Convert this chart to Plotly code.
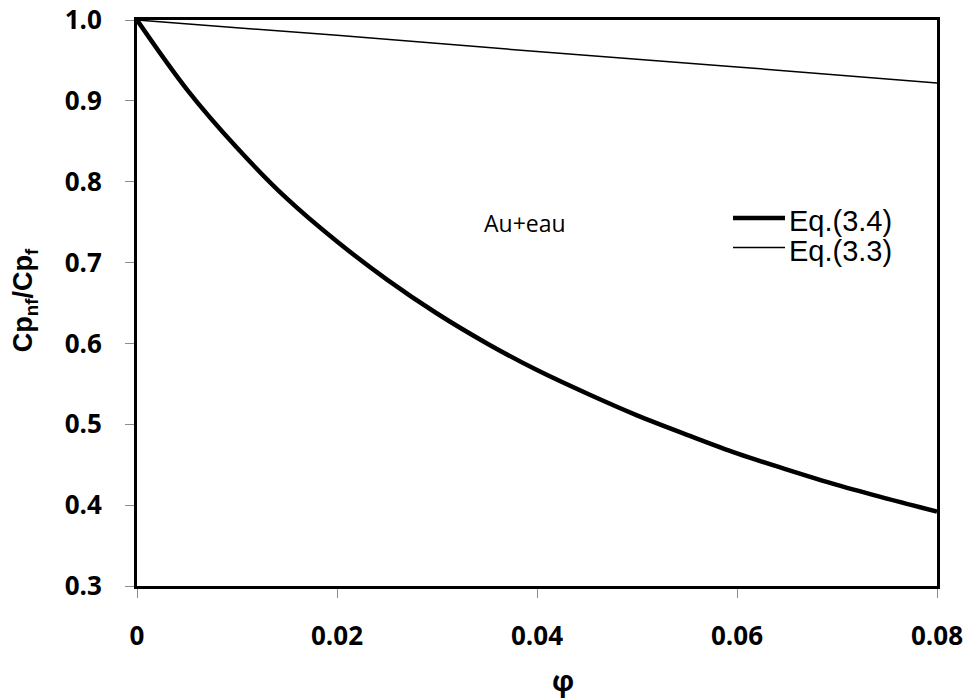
import plotly.graph_objects as go

# Volume fraction of Au nanoparticles in water
phi = [0.0, 0.005, 0.01, 0.015, 0.02, 0.025, 0.03, 0.035, 0.04,
       0.045, 0.05, 0.055, 0.06, 0.065, 0.07, 0.075, 0.08]
# Cp_nf / Cp_f, Eq.(3.4)
cp_eq34 = [1.0, 0.914, 0.842, 0.779, 0.726, 0.679, 0.637, 0.600, 0.567,
           0.538, 0.511, 0.487, 0.464, 0.444, 0.425, 0.408, 0.392]
# Cp_nf / Cp_f, Eq.(3.3)
phi_lin = [0.0, 0.02, 0.04, 0.06, 0.08]
cp_eq33 = [1.0, 0.981, 0.961, 0.942, 0.922]

x_ticks = [0, 0.02, 0.04, 0.06, 0.08]
x_tick_text = ["0", "0.02", "0.04", "0.06", "0.08"]
y_ticks = [0.3, 0.4, 0.5, 0.6, 0.7, 0.8, 0.9, 1.0]
y_tick_text = ["0.3", "0.4", "0.5", "0.6", "0.7", "0.8", "0.9", "1.0"]

series_names = ["Eq.(3.4)", "Eq.(3.3)"]
series_widths = [4.5, 1.5]

tick_font = dict(family="Open Sans", size=26, color="black", weight="bold")

fig = go.Figure()
fig.add_trace(go.Scatter(x=phi, y=cp_eq34, mode="lines", name=series_names[0],
                         line=dict(color="black", width=series_widths[0],
                                   shape="spline")))
fig.add_trace(go.Scatter(x=phi_lin, y=cp_eq33, mode="lines", name=series_names[1],
                         line=dict(color="black", width=series_widths[1])))

# Key drawn inside the plot area: short line sample + label per series
key_rows_y = [0.650, 0.598]
for name, w, ky in zip(series_names, series_widths, key_rows_y):
    fig.add_shape(type="line", xref="paper", yref="paper",
                  x0=0.745, x1=0.81, y0=ky, y1=ky,
                  line=dict(color="black", width=w))
    fig.add_annotation(xref="paper", yref="paper", x=0.813, y=ky - 0.006,
                       xanchor="left", yanchor="middle", text=name,
                       showarrow=False,
                       font=dict(family="Liberation Sans", size=29,
                                 color="black"))

fig.add_annotation(x=0.0388, y=0.749, xref="x", yref="y", text="Au+eau",
                   showarrow=False,
                   font=dict(family="Open Sans", size=23, color="black"))

# Axis titles
fig.add_annotation(xref="paper", yref="paper", x=0.533, y=-0.166,
                   xanchor="center", yanchor="middle", text="φ",
                   showarrow=False,
                   font=dict(family="Open Sans", size=28, color="black",
                             weight="bold"))
fig.add_annotation(xref="paper", yref="paper", x=-0.1405, y=0.504,
                   xanchor="center", yanchor="middle", textangle=-90,
                   text="Cp<sub>nf</sub>/Cp<sub>f</sub>", showarrow=False,
                   font=dict(family="Liberation Sans", size=27, color="black",
                             weight="bold"))

fig.update_layout(
    width=966, height=699,
    margin=dict(l=137, r=29, t=20, b=113, autoexpand=False),
    paper_bgcolor="white", plot_bgcolor="white",
    showlegend=False,
    xaxis=dict(range=[0, 0.08], tickvals=x_ticks, ticktext=x_tick_text,
               tickfont=tick_font, ticks="outside", ticklen=9,
               tickcolor="#8c8c8c", ticklabelstandoff=16, automargin=False,
               showgrid=False, zeroline=False,
               showline=True, linecolor="black", linewidth=3, mirror=True),
    yaxis=dict(range=[0.3, 1.0], tickvals=y_ticks, ticktext=y_tick_text,
               tickfont=tick_font, ticks="outside", ticklen=9,
               tickcolor="#8c8c8c", ticklabelstandoff=18, automargin=False,
               showgrid=False, zeroline=False,
               showline=True, linecolor="black", linewidth=3, mirror=True),
)

fig.write_html("out.html")
